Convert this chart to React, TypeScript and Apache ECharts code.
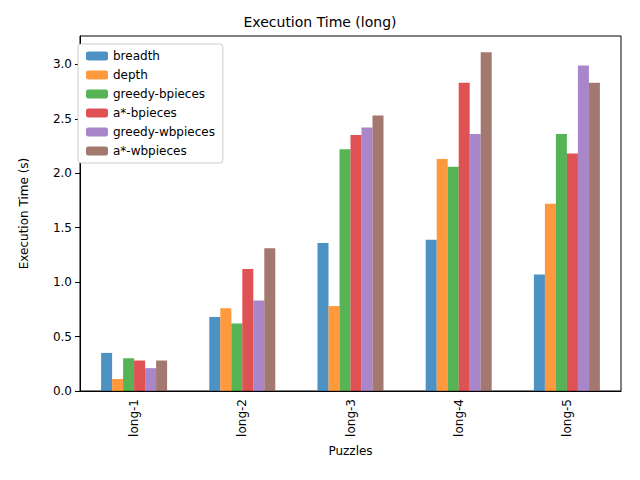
import React, { useEffect, useRef } from "react";
import * as echarts from "echarts";

const categories = ["long-1", "long-2", "long-3", "long-4", "long-5"];
const seriesNames = ["breadth", "depth", "greedy-bpieces", "a*-bpieces", "greedy-wbpieces", "a*-wbpieces"];
const breadth = [0.35, 0.68, 1.36, 1.39, 1.07];
const depth = [0.11, 0.76, 0.78, 2.13, 1.72];
const greedyB = [0.3, 0.62, 2.22, 2.06, 2.36];
const astarB = [0.28, 1.12, 2.35, 2.83, 2.18];
const greedyWB = [0.21, 0.83, 2.42, 2.36, 2.99];
const astarWB = [0.28, 1.31, 2.53, 3.11, 2.83];
const colors = ["#1f77b4", "#ff7f0e", "#2ca02c", "#d62728", "#9467bd", "#8c564b"];

export default function App() {
  const ref = useRef<HTMLDivElement>(null);
  useEffect(() => {
    const chart = echarts.init(ref.current!, null, { renderer: "svg" });
    const data = [breadth, depth, greedyB, astarB, greedyWB, astarWB];
    const font = "DejaVu Sans";
    chart.setOption({
      animation: false,
      textStyle: { fontFamily: font },
      title: { text: "Execution Time (long)", left: "center", top: 10, textStyle: { fontFamily: font, fontSize: 14, fontWeight: "normal", color: "#000" } },
      grid: { left: 80, right: 19, top: 36, bottom: 89, show: true, borderColor: "#000", borderWidth: 1, backgroundColor: "transparent" },
      legend: {
        orient: "vertical", left: 78, top: 44, itemWidth: 22, itemHeight: 9, itemGap: 7,
        backgroundColor: "#fff", borderColor: "#ccc", borderWidth: 1, borderRadius: 3, padding: [6, 8],
        textStyle: { fontFamily: font, fontSize: 12, color: "#000" },
        data: seriesNames,
      },
      xAxis: {
        type: "category", data: categories, name: "Puzzles", nameLocation: "middle", nameGap: 50,
        nameTextStyle: { fontSize: 12, color: "#000" },
        axisLine: { lineStyle: { color: "#000" } }, axisTick: { alignWithLabel: true, lineStyle: { color: "#000" } },
        axisLabel: { rotate: 90, color: "#000", fontSize: 12 },
      },
      yAxis: {
        type: "value", min: 0, max: 3.26, interval: 0.5, name: "Execution Time (s)", nameLocation: "middle", nameGap: 50,
        nameTextStyle: { fontSize: 12, color: "#000" },
        axisLine: { show: true, lineStyle: { color: "#000" } }, axisTick: { show: true, lineStyle: { color: "#000" } },
        splitLine: { show: false },
        axisLabel: { color: "#000", fontSize: 12, formatter: (v: number) => v.toFixed(1), showMaxLabel: false },
      },
      series: seriesNames.map((n, i) => ({
        name: n, type: "bar", data: data[i], barWidth: 11, barGap: "0%",
        itemStyle: { color: colors[i], opacity: 0.8 },
      })),
    });
    return () => chart.dispose();
  }, []);
  return <div ref={ref} style={{ width: 640, height: 480, marginLeft: -8, marginTop: -8 }} />;
}
